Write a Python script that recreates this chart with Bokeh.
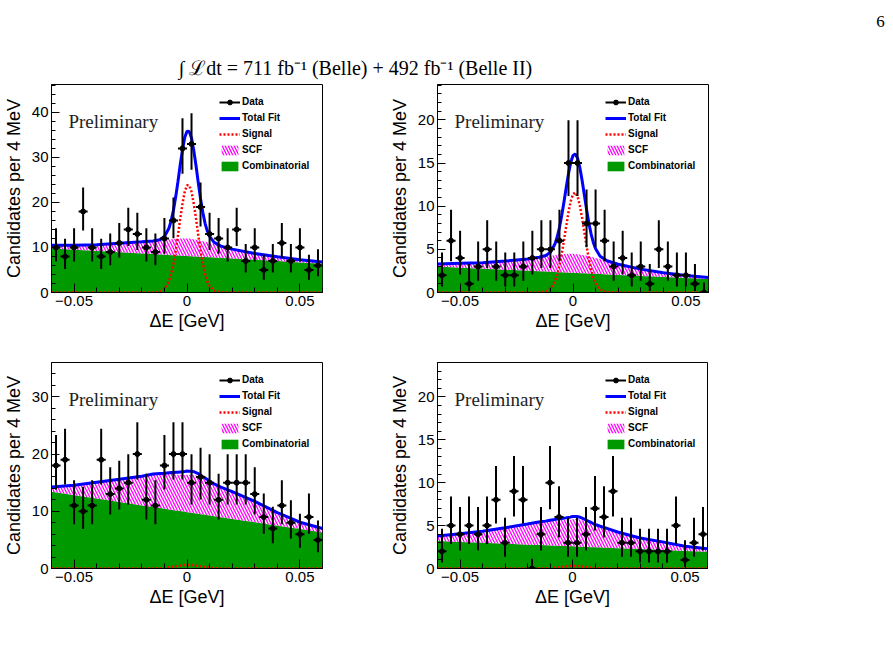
import math
import numpy as np
from bokeh.plotting import figure
from bokeh.layouts import column, row
from bokeh.models import (Range1d, FixedTicker, Legend, LegendItem, Label,
                          CustomJSTickFormatter)
from bokeh.embed import file_html
from bokeh.resources import INLINE

# ---------------- data ----------------
bin_centers = [-0.058, -0.054, -0.050, -0.046, -0.042, -0.038, -0.034, -0.030,
               -0.026, -0.022, -0.018, -0.014, -0.010, -0.006, -0.002, 0.002,
               0.006, 0.010, 0.014, 0.018, 0.022, 0.026, 0.030, 0.034, 0.038,
               0.042, 0.046, 0.050, 0.054, 0.058]
bin_half_width = 0.002

counts_1 = [10, 8, 10, 18, 10, 8, 9, 11, 14, 13, 10, 9, 12, 16, 32, 33, 19, 13,
            12, 10, 14, 7, 10, 5, 7, 11, 7, 10, 5, 6]
counts_2 = [2, 6, 4, 1, 3, 5, 3, 2, 2, 3, 4, 5, 5, 6, 15, 15, 8, 8, 6, 3, 4, 2,
            3, 1, 5, 3, 2, 2, 1, 0]
counts_3 = [18, 19, 11, 10, 11, 19, 13, 14, 15, 20, 12, 11, 18, 20, 20, 15, 16,
            15, 12, 15, 15, 15, 13, 9, 7, 11, 8, 6, 9, 5]
counts_4 = [2, 5, 4, 5, 4, 5, 8, 3, 9, 8, 0, 4, 10, 6, 3, 3, 4, 7, 6, 9, 3, 3,
            2, 2, 2, 2, 5, 1, 3, 4]

curve_x = [-0.060, -0.050, -0.040, -0.030, -0.020, -0.015, -0.012, -0.010,
           -0.008, -0.007, -0.006, -0.005, -0.004, -0.003, -0.002, -0.001,
           0.000, 0.001, 0.002, 0.003, 0.004, 0.005, 0.006, 0.007, 0.008,
           0.009, 0.010, 0.012, 0.015, 0.020, 0.030, 0.040, 0.050, 0.060]

comb_1 = [9.80, 9.52, 9.23, 8.95, 8.67, 8.53, 8.44, 8.38, 8.33, 8.30, 8.27, 8.24,
          8.21, 8.19, 8.16, 8.13, 8.10, 8.07, 8.04, 8.02, 7.99, 7.96, 7.93, 7.90,
          7.87, 7.85, 7.82, 7.76, 7.68, 7.53, 7.25, 6.97, 6.68, 6.40]
scf_1 = [0.70, 1.00, 1.40, 2.00, 2.60, 2.90, 3.10, 3.30, 3.45, 3.55, 3.60, 3.70,
         3.75, 3.80, 3.85, 3.90, 3.90, 3.90, 3.85, 3.80, 3.75, 3.70, 3.60, 3.50,
         3.40, 3.30, 3.20, 3.00, 2.60, 2.10, 1.40, 0.95, 0.60, 0.40]
sig_1 = [0, 0, 0, 0, 0, 0.01, 0.18, 0.77, 2.5, 4.1, 6.4, 9.3, 12.7, 16.4, 19.7,
         22.4, 23.8, 23.8, 22.4, 19.7, 16.4, 12.7, 9.3, 6.4, 4.1, 2.5, 1.43,
         0.38, 0.03, 0, 0, 0, 0, 0]

comb_2 = [3.00, 2.88, 2.76, 2.64, 2.52, 2.46, 2.42, 2.40, 2.37, 2.36, 2.35, 2.34,
          2.33, 2.31, 2.30, 2.29, 2.28, 2.26, 2.25, 2.24, 2.23, 2.22, 2.20, 2.19,
          2.18, 2.17, 2.16, 2.13, 2.09, 2.03, 1.91, 1.79, 1.67, 1.55]
scf_2 = [0.30, 0.50, 0.70, 1.00, 1.35, 1.60, 1.75, 1.85, 1.95, 2.00, 2.05, 2.10,
         2.12, 2.15, 2.18, 2.20, 2.20, 2.20, 2.18, 2.15, 2.12, 2.10, 2.05, 2.00,
         1.95, 1.90, 1.85, 1.75, 1.55, 1.25, 0.80, 0.50, 0.30, 0.20]
sig_2 = [0, 0, 0, 0, 0, 0.02, 0.11, 0.42, 1.29, 2.07, 3.13, 4.47, 6.04, 7.70,
         9.29, 10.58, 11.39, 11.59, 11.14, 10.11, 8.68, 7.04, 5.39, 3.90, 2.67,
         1.73, 1.05, 0.33, 0.04, 0, 0, 0, 0, 0]

comb_3 = [13.40, 12.81, 12.22, 11.63, 11.03, 10.74, 10.56, 10.44, 10.32, 10.26,
          10.20, 10.15, 10.09, 10.03, 9.97, 9.91, 9.85, 9.79, 9.73, 9.67, 9.61,
          9.55, 9.50, 9.44, 9.38, 9.32, 9.26, 9.14, 8.96, 8.67, 8.07, 7.48, 6.89,
          6.30]
scf_3 = [0.85, 1.75, 2.85, 3.95, 5.10, 5.75, 6.00, 6.10, 6.20, 6.25, 6.25, 6.30,
         6.30, 6.35, 6.40, 6.45, 6.55, 6.60, 6.65, 6.70, 6.65, 6.60, 6.45, 6.30,
         6.20, 6.05, 5.85, 5.55, 5.25, 4.75, 3.65, 2.30, 1.20, 0.70]
sig_3 = [0, 0, 0, 0, 0, 0.01, 0.04, 0.10, 0.20, 0.25, 0.30, 0.37, 0.43, 0.50,
         0.55, 0.60, 0.62, 0.62, 0.60, 0.55, 0.50, 0.43, 0.37, 0.30, 0.25, 0.20,
         0.15, 0.08, 0.02, 0, 0, 0, 0, 0]

comb_4 = [3.20, 3.10, 2.99, 2.89, 2.78, 2.73, 2.70, 2.68, 2.66, 2.65, 2.64, 2.63,
          2.62, 2.61, 2.60, 2.59, 2.58, 2.56, 2.55, 2.54, 2.53, 2.52, 2.51, 2.50,
          2.49, 2.48, 2.47, 2.45, 2.42, 2.37, 2.26, 2.16, 2.05, 1.95]
scf_4 = [0.60, 0.95, 1.35, 1.85, 2.40, 2.68, 2.80, 2.90, 2.95, 3.00, 3.00, 3.02,
         3.03, 3.05, 3.08, 3.10, 3.17, 3.20, 3.22, 3.20, 3.13, 3.05, 2.96, 2.87,
         2.79, 2.69, 2.61, 2.46, 2.27, 1.88, 1.29, 0.94, 0.55, 0.35]
sig_4 = [0, 0, 0, 0, 0, 0.01, 0.02, 0.05, 0.10, 0.12, 0.15, 0.18, 0.21, 0.24,
         0.27, 0.29, 0.30, 0.30, 0.29, 0.27, 0.24, 0.21, 0.18, 0.15, 0.12, 0.10,
         0.07, 0.04, 0.01, 0, 0, 0, 0, 0]

x_major_ticks = [-0.05, 0.0, 0.05]
x_minor_ticks = [-0.06, -0.05, -0.04, -0.03, -0.02, -0.01, 0.0, 0.01, 0.02,
                 0.03, 0.04, 0.05, 0.06]
y_major_1 = [0, 10, 20, 30, 40]
y_minor_1 = [0, 2, 4, 6, 8, 10, 12, 14, 16, 18, 20, 22, 24, 26, 28, 30, 32, 34,
             36, 38, 40, 42, 44, 46]
y_major_2 = [0, 5, 10, 15, 20]
y_minor_2 = list(range(0, 25))
y_major_3 = [0, 10, 20, 30]
y_minor_3 = [0, 2, 4, 6, 8, 10, 12, 14, 16, 18, 20, 22, 24, 26, 28, 30, 32, 34, 36]

title_text = "\u222b \u2112dt = 711 fb\u207b\u00b9  (Belle) + 492 fb\u207b\u00b9  (Belle II)"
y_title = "Candidates per 4 MeV"
x_title = "\u0394E [GeV]"
legend_labels = ["Data", "Total Fit", "Signal", "SCF", "Combinatorial"]

GREEN = "#009a00"
SANS = "Liberation Sans"
SERIF = "Liberation Serif"


# Poisson (RooFit-style) 68% intervals for the data error bars
def _pcdf(k, mu):
    term = math.exp(-mu)
    s = term
    for i in range(1, k + 1):
        term *= mu / i
        s += term
    return s


def poisson_interval(n):
    a = 0.15865525
    if n == 0:
        return 0.0, -math.log(1.0 - 0.68268949)
    lo, hi = 0.0, float(n)
    for _ in range(80):
        m = 0.5 * (lo + hi)
        if _pcdf(n - 1, m) > 1 - a:
            lo = m
        else:
            hi = m
    low = 0.5 * (lo + hi)
    lo, hi = float(n), n + 10 * math.sqrt(n) + 10
    for _ in range(80):
        m = 0.5 * (lo + hi)
        if _pcdf(n, m) > a:
            lo = m
        else:
            hi = m
    return low, 0.5 * (lo + hi)


def make_panel(counts, comb, scf, sig, ymax, ymaj, ymin, width, height,
               bl, br, bt, bb):
    p = figure(width=width, height=height, output_backend="svg",
               toolbar_location=None, x_range=Range1d(-0.06, 0.06),
               y_range=Range1d(0, ymax), min_border_left=bl,
               min_border_right=br, min_border_top=bt, min_border_bottom=bb,
               background_fill_color="white", border_fill_color="white")
    p.xgrid.grid_line_color = None
    p.ygrid.grid_line_color = None
    p.outline_line_color = "black"
    p.outline_line_width = 1

    x = np.array(curve_x)
    comb = np.array(comb)
    top = comb + np.array(scf)
    sig = np.array(sig)
    total = top + sig

    r_comb = p.varea(x=x, y1=np.zeros_like(x), y2=comb, fill_color=GREEN)
    r_scf = p.varea(x=x, y1=comb, y2=top, fill_alpha=0.0,
                    hatch_pattern="\\", hatch_color="#ff00ff",
                    hatch_scale=6, hatch_weight=1.3)
    r_scf_box = p.quad(left=[], right=[], top=[], bottom=[], fill_alpha=0.0,
                       line_color="#ff00ff", line_width=1)
    r_sig = p.line(x=x, y=sig, line_color="#ff0000", line_width=2.5,
                   line_dash="2 2")
    r_tot = p.line(x=x, y=total, line_color="#0000ff", line_width=3)

    xc = np.array(bin_centers)
    n = np.array(counts, dtype=float)
    lows, highs = zip(*[poisson_interval(int(c)) for c in counts])
    r_ey = p.segment(x0=xc, y0=np.array(lows), x1=xc, y1=np.array(highs),
                     line_color="black", line_width=2)
    r_ex = p.segment(x0=xc - bin_half_width, y0=n, x1=xc + bin_half_width,
                     y1=n, line_color="black", line_width=2)
    r_pt = p.scatter(x=xc, y=n, size=5, marker="circle", fill_color="black",
                     line_color="black")

    fw = width - bl - br
    fh = height - bt - bb
    p.add_layout(Label(x=-0.06 + 17.0 / fw * 0.12, y=ymax * (1 - 26.0 / fh),
                       text="Preliminary", text_font=SERIF,
                       text_font_size="19px", text_color="#222222",
                       text_baseline="top", text_align="left"))

    items = [LegendItem(label=legend_labels[0], renderers=[r_ex, r_pt]),
             LegendItem(label=legend_labels[1], renderers=[r_tot]),
             LegendItem(label=legend_labels[2], renderers=[r_sig]),
             LegendItem(label=legend_labels[3], renderers=[r_scf, r_scf_box]),
             LegendItem(label=legend_labels[4], renderers=[r_comb])]
    leg = Legend(items=items, location=(168, fh - 11.5 - 76),
                 border_line_color=None, background_fill_alpha=0.0,
                 padding=0, margin=0, spacing=4, glyph_width=21,
                 glyph_height=12, label_height=12, label_standoff=2,
                 label_text_font=SANS, label_text_font_style="bold",
                 label_text_font_size="10px", label_text_color="black")
    p.add_layout(leg)

    fmt = CustomJSTickFormatter(code="""
        if (Math.abs(tick) < 1e-9) { return '0'; }
        return tick.toFixed(2).replace('-', '\\u2212');
    """)
    p.xaxis.ticker = FixedTicker(ticks=x_major_ticks, minor_ticks=x_minor_ticks)
    p.xaxis.formatter = fmt
    p.yaxis.ticker = FixedTicker(ticks=ymaj, minor_ticks=ymin)
    for ax in (p.xaxis[0], p.yaxis[0]):
        ax.axis_line_color = "black"
        ax.axis_line_width = 1
        ax.major_tick_out = 0
        ax.minor_tick_out = 0
        ax.major_tick_line_color = "black"
        ax.minor_tick_line_color = "black"
        ax.major_label_text_font = SANS
        ax.major_label_text_font_size = "15px"
        ax.major_label_text_color = "black"
        ax.major_label_standoff = 3
        ax.axis_label_text_font = SANS
        ax.axis_label_text_font_size = "18px"
        ax.axis_label_text_font_style = "normal"
        ax.axis_label_text_color = "black"
    p.xaxis.major_tick_in = 9
    p.xaxis.minor_tick_in = 5
    p.yaxis.major_tick_in = 8
    p.yaxis.minor_tick_in = 4
    p.xaxis.axis_label = x_title
    p.xaxis.axis_label_standoff = 2
    p.yaxis.axis_label = y_title
    p.yaxis.axis_label_standoff = 5
    return p


# header with luminosity line and page number
hdr = figure(width=893, height=80, output_backend="svg", toolbar_location=None,
             x_range=Range1d(0, 893), y_range=Range1d(80, 0), min_border=0,
             outline_line_color=None)
hdr.axis.visible = False
hdr.grid.visible = False
hdr.add_layout(Label(x=360, y=67, text=title_text, text_font=SERIF,
                     text_font_size="20px", text_align="center",
                     text_baseline="alphabetic", text_color="black"))
hdr.add_layout(Label(x=880, y=21, text="6", text_font=SERIF,
                     text_font_size="17px", text_align="center",
                     text_baseline="alphabetic", text_color="black"))

p1 = make_panel(counts_1, comb_1, scf_1, sig_1, 46.2, y_major_1, y_minor_1,
                385, 260, 50, 63, 4, 48)
p2 = make_panel(counts_2, comb_2, scf_2, sig_2, 24.1, y_major_2, y_minor_2,
                508, 260, 52, 185, 4, 48)
p3 = make_panel(counts_3, comb_3, scf_3, sig_3, 36.0, y_major_3, y_minor_3,
                385, 311, 50, 63, 22, 83)
p4 = make_panel(counts_4, comb_4, scf_4, sig_4, 24.0, y_major_2, y_minor_2,
                508, 311, 52, 186, 22, 83)

layout = column(hdr, row(p1, p2), row(p3, p4))
open("out.html", "w").write(file_html(layout, INLINE))
